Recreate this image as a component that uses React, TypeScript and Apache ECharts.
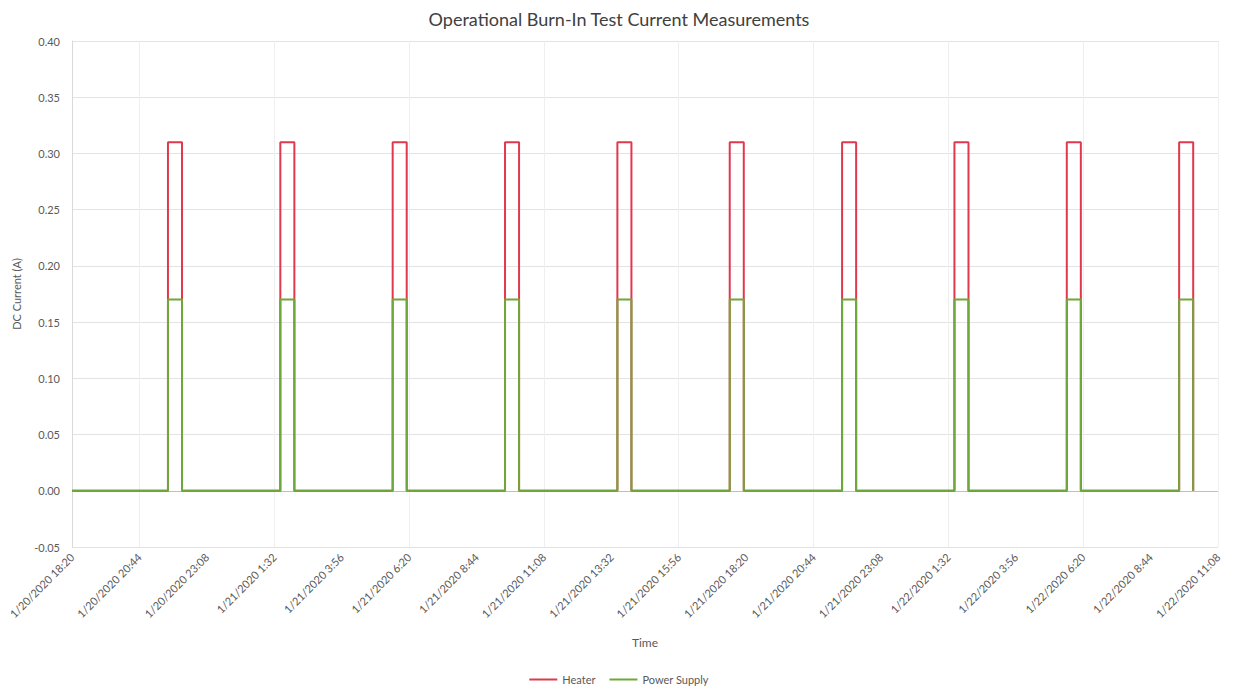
import React, { useEffect, useRef } from "react";
import * as echarts from "echarts";

// Time axis: 0.1-day steps (2 h 24 min) from the first to the last tick label
const tickLabels = [
  "1/20/2020 18:20", "1/20/2020 20:44", "1/20/2020 23:08", "1/21/2020 1:32",
  "1/21/2020 3:56", "1/21/2020 6:20", "1/21/2020 8:44", "1/21/2020 11:08",
  "1/21/2020 13:32", "1/21/2020 15:56", "1/21/2020 18:20", "1/21/2020 20:44",
  "1/21/2020 23:08", "1/22/2020 1:32", "1/22/2020 3:56", "1/22/2020 6:20",
  "1/22/2020 8:44", "1/22/2020 11:08",
];
const tickStepMinutes = 144;

// Burn-in cycles: switch-on time of each cycle and how long it stays on
const pulseStarts = [
  "1/20/2020 21:45", "1/21/2020 1:45", "1/21/2020 5:45", "1/21/2020 9:45",
  "1/21/2020 13:45", "1/21/2020 17:45", "1/21/2020 21:45", "1/22/2020 1:45",
  "1/22/2020 5:45", "1/22/2020 9:45",
];
const pulseMinutes = 30;

// Measured DC current (A) while a cycle is on
const heaterOn = [0.310, 0.310, 0.310, 0.310, 0.310, 0.310, 0.310, 0.310, 0.310, 0.310];
const supplyOn = [0.170, 0.170, 0.170, 0.170, 0.170, 0.170, 0.170, 0.170, 0.170, 0.170];
const idleCurrent = 0.0;

const yTicks = [-0.05, 0.0, 0.05, 0.1, 0.15, 0.2, 0.25, 0.3, 0.35, 0.4];

function toMinutes(label: string): number {
  const [date, time] = label.split(" ");
  const [mo, d, y] = date.split("/").map(Number);
  const [h, mi] = time.split(":").map(Number);
  return Date.UTC(y, mo - 1, d, h, mi) / 60000;
}

const origin = toMinutes(tickLabels[0]);
const axisMax = toMinutes(tickLabels[tickLabels.length - 1]) - origin;

function stepSeries(onValues: number[]): number[][] {
  const pts: number[][] = [[0, idleCurrent]];
  pulseStarts.forEach((s, i) => {
    const t0 = toMinutes(s) - origin;
    const t1 = t0 + pulseMinutes;
    pts.push([t0, idleCurrent], [t0, onValues[i]], [t1, onValues[i]], [t1, idleCurrent]);
    if (i < pulseStarts.length - 1) {
      const next = toMinutes(pulseStarts[i + 1]) - origin;
      pts.push([next, idleCurrent]);
    }
  });
  return pts;
}

const FONT = "Lato, 'Open Sans', sans-serif";
const TEXT = "#595959";

export default function App() {
  const ref = useRef<HTMLDivElement>(null);

  useEffect(() => {
    if (!ref.current) return;
    const chart = echarts.init(ref.current, undefined, { renderer: "svg" });
    const ySplitColors = yTicks.map((v) => (v === 0 ? "#bfbfbf" : "#e3e3e3"));
    const xSplitColors = tickLabels.map((_, i) => (i % 2 === 1 ? "#efefef" : "rgba(0,0,0,0)"));

    chart.setOption({
      animation: false,
      backgroundColor: "#ffffff",
      textStyle: { fontFamily: FONT },
      title: {
        text: "Operational Burn-In Test Current Measurements",
        left: "center",
        top: 5,
        textStyle: { fontFamily: FONT, fontSize: 18, fontWeight: "normal", color: "#404040" },
      },
      legend: {
        bottom: 8,
        left: "center",
        itemWidth: 28,
        itemHeight: 2,
        itemGap: 14,
        icon: "rect",
        textStyle: { fontFamily: FONT, fontSize: 11, color: TEXT },
        data: ["Heater", "Power Supply"],
      },
      grid: { left: 72, right: 20, top: 41, bottom: 151 },
      xAxis: {
        type: "value",
        min: 0,
        max: axisMax,
        interval: tickStepMinutes,
        name: "Time",
        nameLocation: "middle",
        nameGap: 89,
        nameTextStyle: { fontFamily: FONT, fontSize: 12, color: TEXT },
        axisLine: { show: false, onZero: false },
        axisTick: { show: false },
        axisLabel: {
          rotate: 45,
          fontFamily: FONT,
          fontSize: 11,
          color: TEXT,
          margin: 8,
          formatter: (v: number) => tickLabels[Math.round(v / tickStepMinutes)] ?? "",
        },
        splitLine: { show: true, lineStyle: { color: xSplitColors, width: 1 } },
      },
      yAxis: {
        type: "value",
        min: -0.05,
        max: 0.4,
        interval: 0.05,
        name: "DC Current (A)",
        nameLocation: "middle",
        nameGap: 50,
        nameTextStyle: { fontFamily: FONT, fontSize: 11, color: TEXT },
        axisLine: { show: true, lineStyle: { color: "#d9d9d9" } },
        axisTick: { show: false },
        axisLabel: {
          fontFamily: FONT,
          fontSize: 11,
          color: TEXT,
          margin: 12,
          formatter: (v: number) => v.toFixed(2),
        },
        splitLine: { show: true, lineStyle: { color: ySplitColors, width: 1 } },
      },
      series: [
        {
          name: "Heater",
          type: "line",
          data: stepSeries(heaterOn),
          showSymbol: false,
          color: "#e0394f",
          lineStyle: { color: "#e0394f", width: 2 },
          z: 2,
        },
        {
          name: "Power Supply",
          type: "line",
          data: stepSeries(supplyOn),
          showSymbol: false,
          color: "#6ea83a",
          lineStyle: { color: "#6ea83a", width: 2 },
          z: 3,
        },
      ],
    });
    return () => chart.dispose();
  }, []);

  return (
    <div
      ref={ref}
      style={{ position: "fixed", left: 0, top: 0, width: 1238, height: 698, background: "#fff" }}
    />
  );
}
